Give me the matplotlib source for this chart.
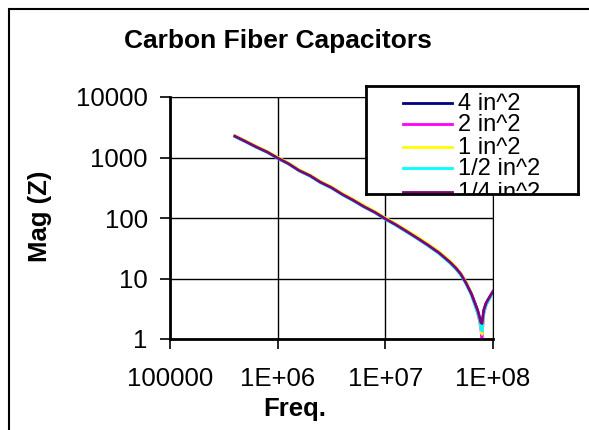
import matplotlib
matplotlib.use("Agg")
import matplotlib.pyplot as plt
from matplotlib.patches import Rectangle
from matplotlib.ticker import FixedLocator, FixedFormatter, NullLocator

plt.rcParams['font.family'] = ['Liberation Sans', 'DejaVu Sans']

# === Data ===
freq = [4.0e5, 5.0e5, 6.3e5, 8.0e5, 1.0e6, 1.26e6, 1.58e6, 2.0e6, 2.5e6, 3.16e6,
        4.0e6, 5.0e6, 6.3e6, 8.0e6, 1.0e7, 1.26e7, 1.58e7, 2.0e7, 2.5e7, 3.16e7,
        4.0e7, 4.5e7, 5.0e7, 5.6e7, 6.3e7, 6.8e7, 7.2e7, 7.5e7, 7.7e7, 7.9e7,
        8.2e7, 8.6e7, 9.0e7, 9.5e7, 1.0e8]

z_4in = [2260, 1860, 1510, 1240, 985, 795, 615, 502, 392, 320,
         247, 199, 157, 125, 98, 77.5, 60.5, 46.5, 35.5, 26.5,
         18.5, 15.0, 12.0, 8.6, 5.6, 3.9, 2.9, 2.2, 1.7, 1.5,
         2.9, 3.8, 4.4, 5.2, 6.1]
z_2in = [2270, 1870, 1520, 1245, 990, 800, 620, 505, 395, 322,
         248, 200, 158, 126, 99, 78, 61, 47, 36, 26.8,
         18.8, 15.2, 12.1, 8.7, 5.5, 3.7, 2.7, 2.0, 1.5, 1.05,
         2.6, 3.6, 4.3, 5.1, 6.0]
z_1in = [2300, 1900, 1550, 1270, 1010, 815, 632, 515, 404, 330,
         255, 206, 162, 129, 101, 80, 62.5, 48.5, 37.2, 27.8,
         19.5, 15.6, 12.4, 8.9, 5.7, 3.8, 2.8, 2.1, 1.6, 1.2,
         2.7, 3.7, 4.4, 5.2, 6.0]
z_half = [2200, 1820, 1470, 1210, 965, 780, 600, 490, 382, 312,
          240, 193, 152, 122, 95, 75, 58.5, 45, 34.5, 25.6,
          17.8, 14.4, 11.5, 8.2, 5.3, 3.6, 2.7, 2.1, 1.6, 1.35,
          2.7, 3.6, 4.2, 5.0, 5.8]
z_quarter = [2250, 1850, 1500, 1230, 980, 790, 610, 500, 390, 318,
             245, 198, 155, 124, 97, 77, 60, 46, 35.5, 26.5,
             18.5, 15.0, 12.0, 8.5, 5.6, 3.9, 3.0, 2.3, 1.9, 1.8,
             3.0, 3.9, 4.5, 5.3, 6.1]

series = [z_4in, z_2in, z_1in, z_half, z_quarter]
labels = ["4 in^2", "2 in^2", "1 in^2", "1/2 in^2", "1/4 in^2"]
colors = ["#000080", "#FF00FF", "#FFFF00", "#00FFFF", "#800080"]

y_ticks = [1, 10, 100, 1000, 10000]
y_labels = ["1", "10", "100", "1000", "10000"]
x_ticks = [1e5, 1e6, 1e7, 1e8]
x_labels = ["100000", "1E+06", "1E+07", "1E+08"]

W, H = 589, 430
fig = plt.figure(figsize=(W / 100, H / 100), dpi=100)

# outer chart frame (left/top edges visible)
fig.patches.append(Rectangle((9 / W, -0.5), 2.0, 1.5 - 9 / H, transform=fig.transFigure,
                             fill=False, edgecolor='black', linewidth=1.5))

# === Main axes ===
ax = fig.add_axes([170 / W, 1 - 339 / H, (493 - 170) / W, (339 - 97) / H])
for z, lab, c in zip(series, labels, colors):
    ax.plot(freq, z, color=c, linewidth=2.0, label=lab)

ax.set_xscale('log')
ax.set_yscale('log')
ax.set_xlim(1e5, 1e8)
ax.set_ylim(1, 1e4)
ax.xaxis.set_major_locator(FixedLocator(x_ticks))
ax.xaxis.set_major_formatter(FixedFormatter(x_labels))
ax.yaxis.set_major_locator(FixedLocator(y_ticks))
ax.yaxis.set_major_formatter(FixedFormatter(y_labels))
ax.xaxis.set_minor_locator(NullLocator())
ax.yaxis.set_minor_locator(NullLocator())
ax.grid(True, which='major', color='black', linewidth=1.0)
ax.set_axisbelow(True)
for side in ['left', 'bottom']:
    ax.spines[side].set_linewidth(2.0)
for side in ['top', 'right']:
    ax.spines[side].set_linewidth(0.8)
ax.tick_params(axis='both', direction='out', length=7, width=1.2, labelsize=18.5, colors='black')
ax.tick_params(axis='x', pad=13)
ax.tick_params(axis='y', pad=9)
ax.tick_params(top=False, right=False)

fig.text(278 / W, 1 - 41 / H, "Carbon Fiber Capacitors", ha='center', va='center',
         fontsize=19, fontweight='bold')
fig.text(40 / W, 1 - 216 / H, "Mag (Z)", ha='center', va='center', rotation=90,
         fontsize=18.5, fontweight='bold')
fig.text(295 / W, 1 - 409 / H, "Freq.", ha='center', va='center',
         fontsize=18.5, fontweight='bold')

# === Legend box (clipped like the original) ===
lax = fig.add_axes([366 / W, 1 - 194 / H, (578 - 366) / W, (194 - 86) / H])
lax.set_xlim(0, 1)
lax.set_ylim(0, 1)
lax.set_xticks([])
lax.set_yticks([])
for s in lax.spines.values():
    s.set_linewidth(2.0)
row_y = [0.843, 0.648, 0.435, 0.241, 0.02]
for ry, lab, c in zip(row_y, labels, colors):
    lax.plot([0.175, 0.406], [ry, ry], color=c, linewidth=2.0)
    lax.text(0.434, ry - 0.01, lab, ha='left', va='center', fontsize=17, clip_on=True)

fig.savefig("out.png", dpi=100)
